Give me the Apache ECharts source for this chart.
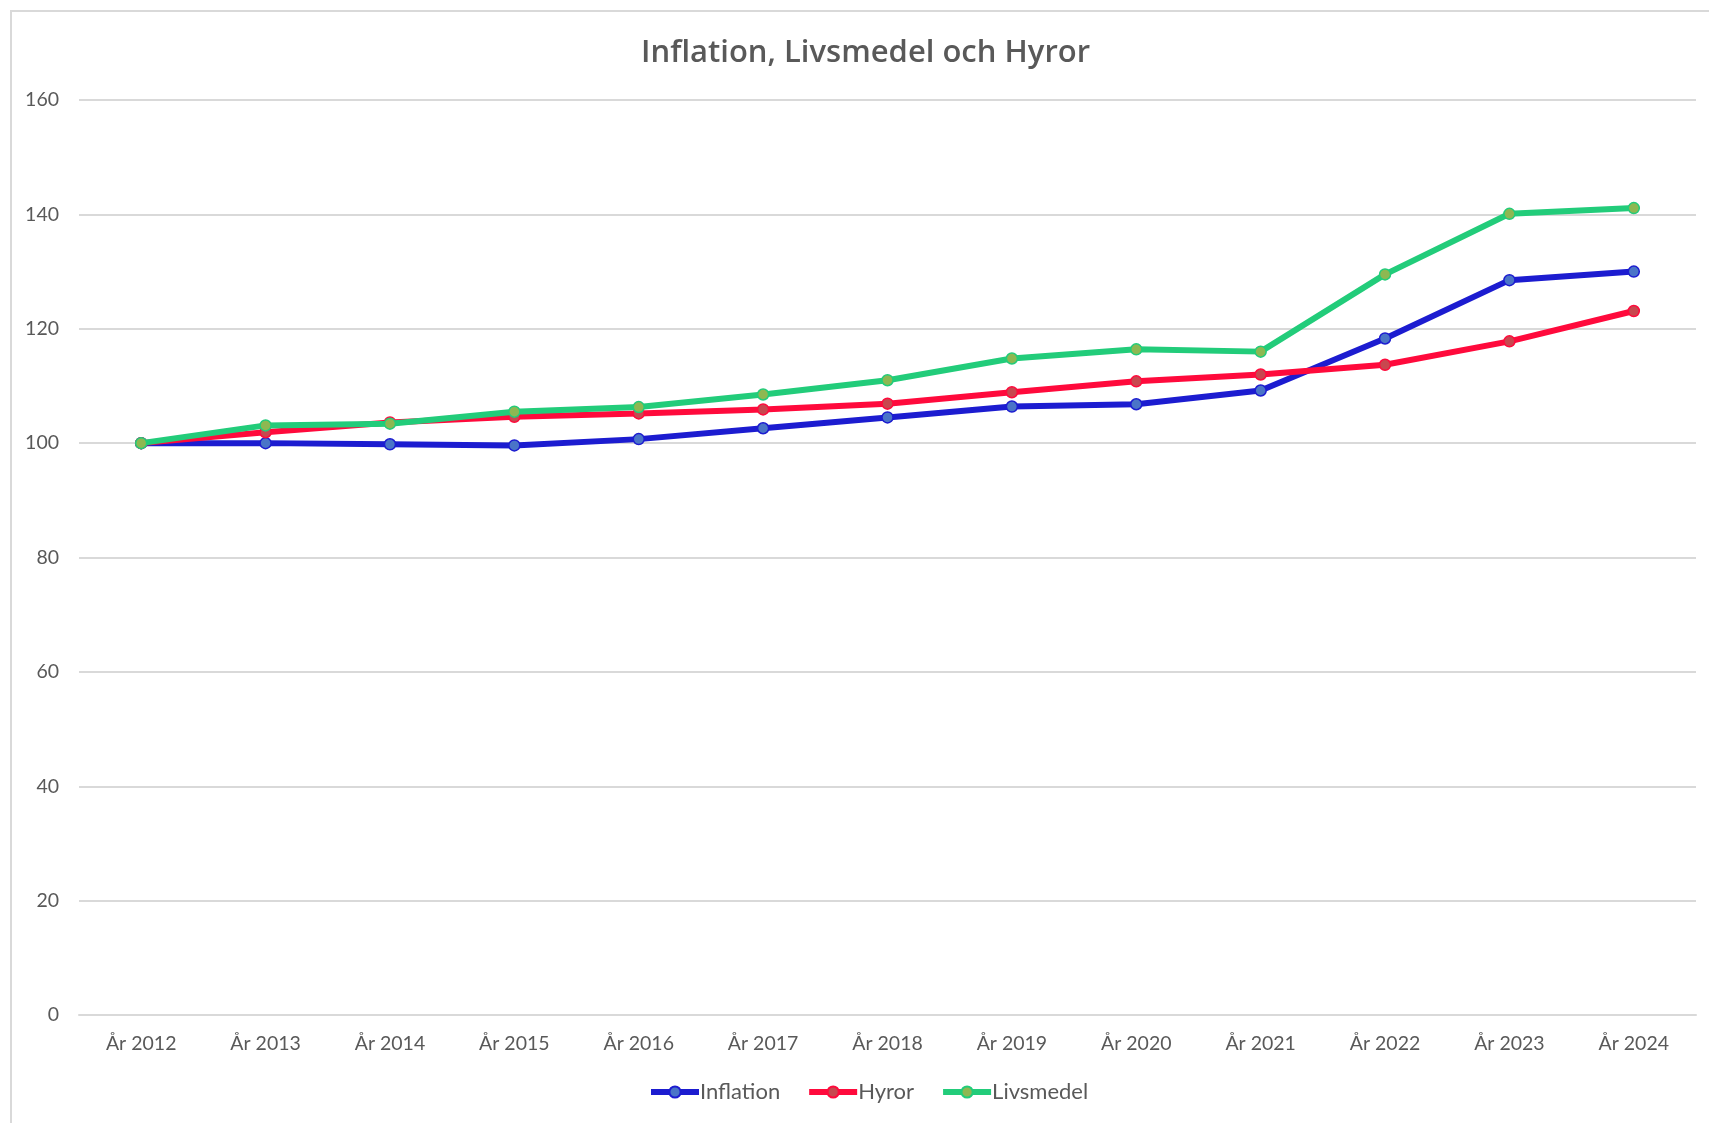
<!DOCTYPE html>
<html>
<head>
<meta charset="utf-8">
<script src="https://cdn.jsdelivr.net/npm/echarts@6/dist/echarts.min.js"></script>
<style>
  html, body { margin: 0; padding: 0; background: #fff; }
  #frame { position: absolute; left: 10px; top: 10px; width: 1720px; height: 1130px; border: 2px solid #d9d9d9; box-sizing: border-box; }
  #chart { position: absolute; left: 0; top: 0; width: 1709px; height: 1123px; }
</style>
</head>
<body>
<div id="frame"></div>
<div id="chart"></div>
<script>
// kategorier och serier
var years = ['År 2012','År 2013','År 2014','År 2015','År 2016','År 2017','År 2018',
             'År 2019','År 2020','År 2021','År 2022','År 2023','År 2024'];
var inflation = [100, 100, 99.8, 99.6, 100.7, 102.6, 104.5, 106.4, 106.8, 109.2, 118.3, 128.5, 130.0];
var hyror     = [100, 101.9, 103.6, 104.6, 105.2, 105.9, 106.9, 108.9, 110.8, 112.0, 113.7, 117.8, 123.1];
var livsmedel = [100, 103.1, 103.4, 105.5, 106.3, 108.5, 111.0, 114.8, 116.4, 116.0, 129.5, 140.1, 141.1];
var yTicks = [0, 160, 20];

var font = 'Lato, "Noto Sans", sans-serif';

function serie(name, data, lineColor, dotColor) {
    return {
        name: name,
        type: 'line',
        data: data,
        symbol: 'circle',
        symbolSize: 11,
        lineStyle: { color: lineColor, width: 6 },
        itemStyle: { color: dotColor, borderColor: lineColor, borderWidth: 1.5 },
        emphasis: { disabled: true },
        z: name == 'Livsmedel' ? 4 : 3
    };
}

var chart = echarts.init(document.getElementById('chart'));
chart.setOption({
    animation: false,
    title: {
        text: 'Inflation, Livsmedel och Hyror',
        left: 636,
        top: 33,
        textStyle: { fontFamily: '"Open Sans", sans-serif', fontSize: 31, fontWeight: 600, color: '#595959' }
    },
    legend: {
        bottom: 15,
        left: 643,
        itemWidth: 48,
        itemHeight: 14,
        itemGap: 26,
        lineStyle: { width: 6 },
        textStyle: { fontFamily: font, fontSize: 22, color: '#595959', padding: [0, 0, 0, -4] },
        data: ['Inflation', 'Hyror', 'Livsmedel']
    },
    grid: { left: 79, right: 13, top: 100, bottom: 108 },
    xAxis: {
        type: 'category',
        data: years,
        boundaryGap: true,
        axisLine: { lineStyle: { color: '#d9d9d9', width: 2 } },
        axisTick: { show: false },
        axisLabel: { fontFamily: font, fontSize: 19.5, color: '#595959', margin: 19 }
    },
    yAxis: {
        type: 'value',
        min: yTicks[0],
        max: yTicks[1],
        interval: yTicks[2],
        axisLine: { show: false },
        axisTick: { show: false },
        splitLine: { lineStyle: { color: '#d9d9d9', width: 2 } },
        axisLabel: { fontFamily: font, fontSize: 19.5, color: '#595959', margin: 20 }
    },
    series: [
        serie('Inflation', inflation, '#1c1cd0', '#4a74c8'),
        serie('Hyror', hyror, '#ff0a3c', '#c8474f'),
        serie('Livsmedel', livsmedel, '#22cc7a', '#8db852')
    ]
});
</script>
</body>
</html>
